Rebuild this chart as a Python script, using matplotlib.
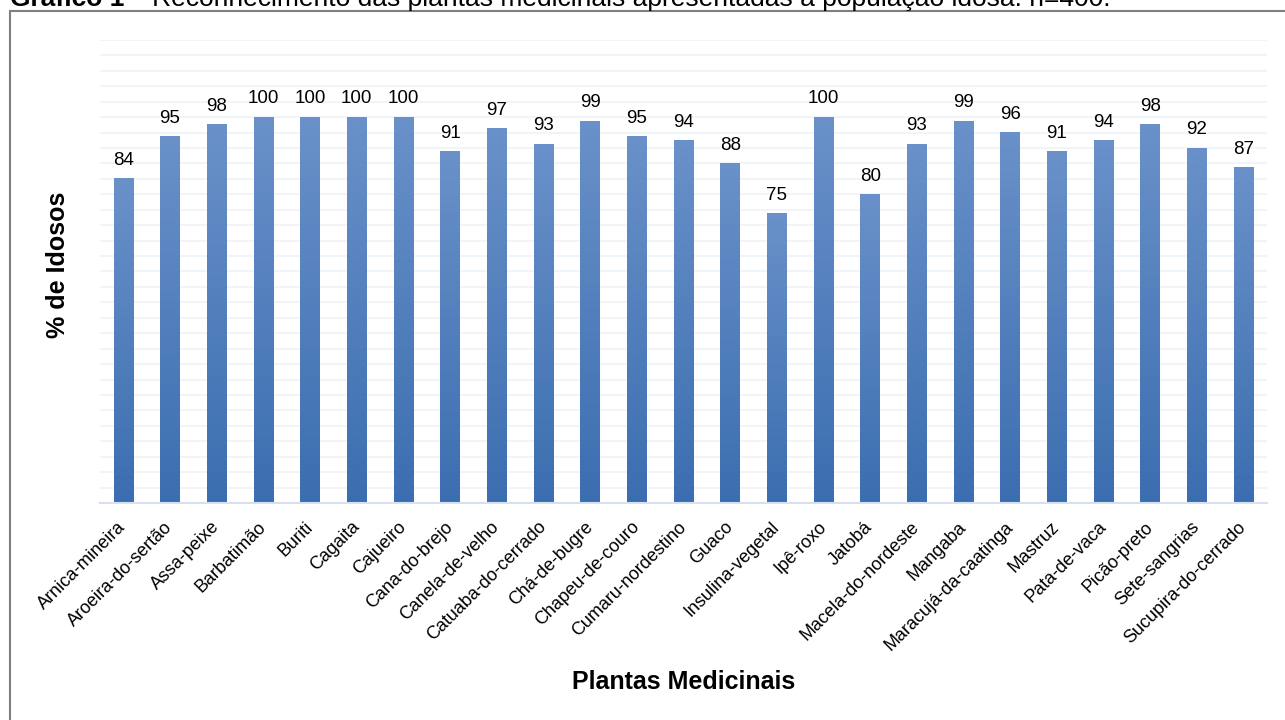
import matplotlib
matplotlib.use("Agg")
import matplotlib.pyplot as plt
import numpy as np
from matplotlib.colors import LinearSegmentedColormap
from matplotlib.patches import Rectangle

plt.rcParams['font.family'] = ['Liberation Sans', 'DejaVu Sans']

plantas = ['Arnica-mineira', 'Aroeira-do-sertão', 'Assa-peixe', 'Barbatimão', 'Buriti',
           'Cagaita', 'Cajueiro', 'Cana-do-brejo', 'Canela-de-velho', 'Catuaba-do-cerrado',
           'Chá-de-bugre', 'Chapeu-de-couro', 'Cumaru-nordestino', 'Guaco', 'Insulina-vegetal',
           'Ipê-roxo', 'Jatobá', 'Macela-do-nordeste', 'Mangaba', 'Maracujá-da-caatinga',
           'Mastruz', 'Pata-de-vaca', 'Picão-preto', 'Sete-sangrias', 'Sucupira-do-cerrado']
idosos = [84, 95, 98, 100, 100, 100, 100, 91, 97, 93, 99, 95, 94, 88, 75,
          100, 80, 93, 99, 96, 91, 94, 98, 92, 87]

fig = plt.figure(figsize=(12.85, 7.2), dpi=100)
ax = fig.add_axes([100 / 1285, 1 - 503 / 720, 1167 / 1285, 463 / 720])

x = np.arange(len(plantas))
bars = ax.bar(x, idosos, width=0.42, color='none', zorder=2)

# gradient fill, lighter at the top like the Excel original
cmap = LinearSegmentedColormap.from_list('azul', ['#3b6eb0', '#6a91c9'])
grad = np.linspace(0, 1, 256).reshape(-1, 1)
for b in bars:
    x0, w, h = b.get_x(), b.get_width(), b.get_height()
    ax.imshow(grad, cmap=cmap, origin='lower', aspect='auto',
              extent=(x0, x0 + w, 0, h), zorder=2)
    ax.annotate(f'{h:.0f}', (x0 + w / 2, h), xytext=(0, 7), textcoords='offset points',
                ha='center', va='bottom', fontsize=13.5)

ax.set_xlim(-0.5, len(plantas) - 0.5)
ax.set_ylim(0, 120)
ax.set_yticks(np.arange(0, 121, 4))
ax.yaxis.grid(True, color='#eef3f9', lw=1.2, zorder=0)
ax.tick_params(axis='y', left=False, labelleft=False)
ax.tick_params(axis='x', bottom=False, pad=12)
for s in ['top', 'right', 'left']:
    ax.spines[s].set_visible(False)
ax.spines['bottom'].set_color('#d6e0f0')
ax.spines['bottom'].set_linewidth(1.5)

ax.set_xticks(x)
ax.set_xticklabels(plantas, rotation=45, ha='right', va='center',
                   rotation_mode='anchor', fontsize=13)

fig.text(58 / 1285, 1 - 265 / 720, '% de Idosos', fontsize=18, fontweight='bold',
         rotation=90, ha='center', va='center')
fig.text(684 / 1285, 1 - 682 / 720, 'Plantas Medicinais', fontsize=18,
         fontweight='bold', ha='center', va='center')

# frame around the chart (only top and left visible in the original)
fig.add_artist(Rectangle((10 / 1285, -0.05), 1.2, 1 - 11 / 720 + 0.05,
                         transform=fig.transFigure, fill=False,
                         edgecolor='#7f7f7f', lw=1.5))

# caption cut off at the top edge
t1 = fig.text(10 / 1285, 1 - 6 / 720, 'Gráfico 1', fontsize=19, fontweight='bold',
              ha='left', va='baseline')
fig.canvas.draw()
bb = t1.get_window_extent()
fig.text((bb.x1 + 6) / 1285, 1 - 6 / 720,
         '– Reconhecimento das plantas medicinais apresentadas à população idosa. n=400.',
         fontsize=19, ha='left', va='baseline')

fig.savefig('out.png', dpi=100)
